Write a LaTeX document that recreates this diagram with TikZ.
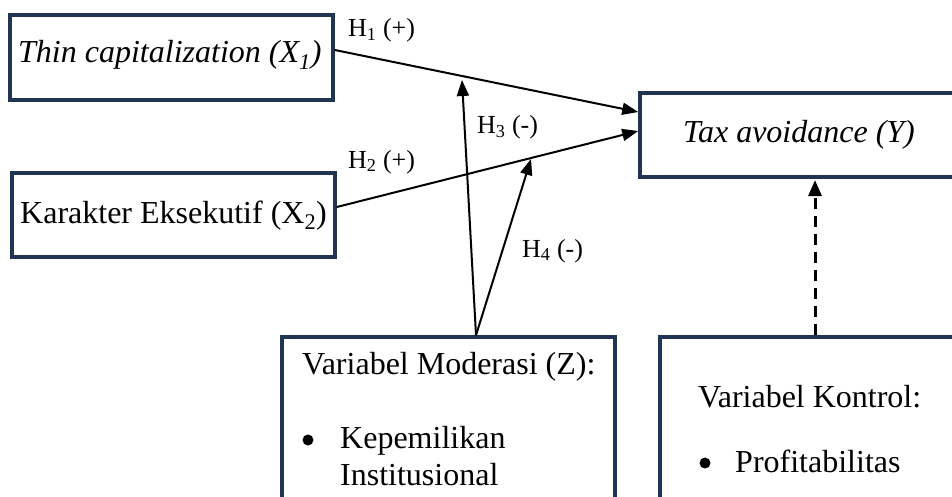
\documentclass[tikz,border=0pt]{standalone}
\usepackage{fontspec}
\setmainfont{Liberation Serif}
\usetikzlibrary{arrows.meta,calc}
\definecolor{boxnavy}{RGB}{31,53,82}
\tikzset{
  varbox/.style={draw=boxnavy, line width=3.6pt, rectangle, inner sep=0pt},
  btext/.style={font=\fontsize{32}{36}\selectfont, inner sep=0pt},
  bulletdot/.style={circle, fill=black, minimum size=11pt, inner sep=0pt},
  hlabel/.style={font=\fontsize{26}{30}\selectfont, inner sep=0pt, anchor=base west},
  conn/.style={line width=2pt, -{Triangle[length=16pt,width=12pt]}},
  dconn/.style={line width=3pt, dash pattern=on 11pt off 7pt, -{Triangle[length=16pt,width=13pt]}}
}
\begin{document}
\begin{tikzpicture}[x=1pt,y=-1pt]
\useasboundingbox (0,0) rectangle (952,497);
\clip (0,0) rectangle (952,497);
\fill[white] (0,0) rectangle (952,497);
% boxes
\node[varbox, minimum width=323pt, minimum height=85pt] (X1) at (171.5,57.5) {};
\node[varbox, minimum width=323pt, minimum height=84pt] (X2) at (173.5,215) {};
\node[varbox, minimum width=322pt, minimum height=84pt] (Y) at (801,135) {};
\node[varbox, minimum width=333pt, minimum height=220pt] (Z) at (448.5,447) {};
\node[varbox, minimum width=320pt, minimum height=220pt] (K) at (820,447) {};
% texts
\node[btext, anchor=base west] (tX1) at (18,63) {\itshape Thin capitalization (X\textsubscript{1})};
\node[btext, anchor=base west] (tX2) at (20,223) {Karakter Eksekutif (X\textsubscript{2})};
\node[btext, anchor=base west] (tY) at (683,143) {\itshape Tax avoidance (Y)};
\node[btext, anchor=base west] (tZ) at (302,374) {Variabel Moderasi (Z):};
\node[bulletdot] (bZ) at (308,440) {};
\node[btext, anchor=base west] (tZ1) at (340,448) {Kepemilikan};
\node[btext, anchor=base west] (tZ2) at (340,485) {Institusional};
\node[btext, anchor=base west] (tK) at (698,407) {Variabel Kontrol:};
\node[bulletdot] (bK) at (705,463) {};
\node[btext, anchor=base west] (tK1) at (735,472) {Profitabilitas};
% connector points
\coordinate (x1out) at (X1.east |- 0,50);
\coordinate (x2out) at (X2.east |- 0,207);
\coordinate (yin1) at (Y.west |- 0,112);
\coordinate (yin2) at (Y.west |- 0,131);
\coordinate (zout) at (476,0 |- Z.north);
\coordinate (m1) at (462,80);
\coordinate (m2) at (531,159);
\coordinate (kout) at (815,0 |- K.north);
\coordinate (yin3) at (815,180);
% connectors
\draw[conn] (x1out) -- (yin1);
\draw[conn] (x2out) -- (yin2);
\draw[conn] (zout) -- (m1);
\draw[conn] (zout) -- (m2);
\draw[dconn] (kout) -- (yin3);
% labels
\node[hlabel] (h1) at (348,37) {H\textsubscript{1} (+)};
\node[hlabel] (h2) at (348,168) {H\textsubscript{2} (+)};
\node[hlabel] (h3) at (477,134) {H\textsubscript{3} (-)};
\node[hlabel] (h4) at (522,257) {H\textsubscript{4} (-)};
\end{tikzpicture}
\end{document}
